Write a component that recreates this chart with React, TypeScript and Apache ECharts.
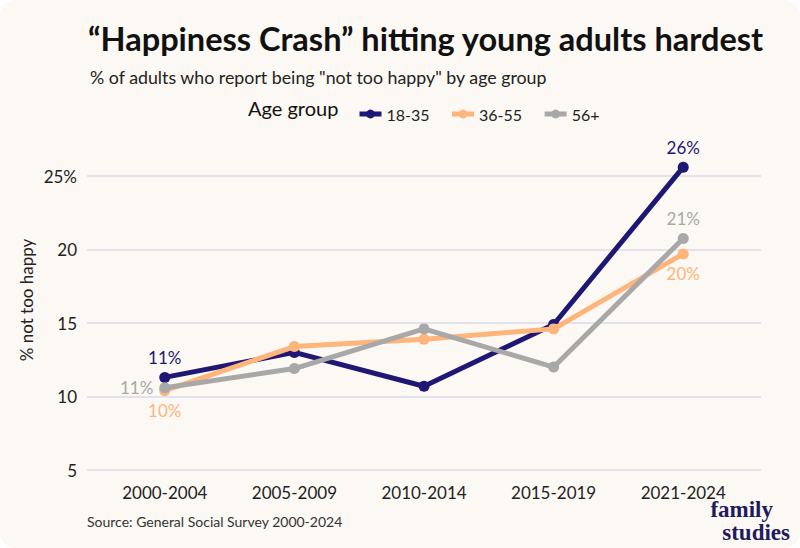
import React, { useEffect, useRef } from "react";
import * as echarts from "echarts";

const categories = ["2000-2004", "2005-2009", "2010-2014", "2015-2019", "2021-2024"];
const seriesNames = ["18-35", "36-55", "56+"];
const young = [11.3, 13.0, 10.7, 14.9, 25.6];
const middle = [10.4, 13.4, 13.9, 14.6, 19.7];
const older = [10.6, 11.9, 14.6, 12.0, 20.75];
const yTicks = [5, 10, 15, 20, 25];
const colors = ["#1e1874", "#fdb57b", "#a8a8a8"];
const labelColors = ["#1e1874", "#fdb57b", "#a8a8a8"];
const firstPos = ["top", "bottom", "left"];
const lastPos = ["top", "bottom", "top"];

const FONT = "Lato";

export default function App() {
  const ref = useRef<HTMLDivElement>(null);
  useEffect(() => {
    document.body.style.margin = "0";
    document.body.style.background = "#ffffff";
    const chart = echarts.init(ref.current!, null, { renderer: "svg" });
    const all = [young, middle, older];
    const series = all.map((vals, si) => ({
      name: seriesNames[si],
      type: "line",
      clip: false,
      z: 2 + si,
      symbol: "circle",
      symbolSize: 11,
      lineStyle: { width: 5, color: colors[si] },
      itemStyle: { color: colors[si] },
      data: vals.map((v, i) => ({
        value: [i, v],
        label: {
          show: i === 0 || i === vals.length - 1,
          position: i === 0 ? firstPos[si] : lastPos[si],
          distance: 6,
          formatter: () => Math.round(v) + "%",
          color: labelColors[si],
          fontFamily: FONT,
          fontSize: 17,
        },
      })),
    }));
    chart.setOption({
      animation: false,
      backgroundColor: "transparent",
      textStyle: { fontFamily: FONT },
      title: [
        {
          text: "\u201cHappiness Crash\u201d hitting young adults hardest",
          left: 83,
          top: 17,
          textStyle: { fontFamily: FONT, fontWeight: "bold", fontSize: 32.5, color: "#111111" },
        },
        {
          text: '% of adults who report being "not too happy" by age group',
          left: 85,
          top: 63,
          textStyle: { fontFamily: FONT, fontWeight: "normal", fontSize: 17.8, color: "#222222" },
        },
      ],
      legend: {
        left: 352,
        top: 101,
        itemWidth: 22,
        itemHeight: 11,
        itemGap: 20,
        data: seriesNames,
        lineStyle: { width: 5 },
        textStyle: { fontFamily: FONT, fontSize: 16, color: "#222222" },
      },
      grid: { left: 87, right: 39, top: 176, bottom: 78 },
      xAxis: {
        type: "value",
        min: -0.6,
        max: 4.6,
        splitLine: { show: false },
        axisLine: { show: false },
        axisTick: { show: false },
        axisLabel: {
          customValues: categories.map((_, i) => i),
          formatter: (v: number) => categories[Math.round(v)] ?? "",
          fontFamily: FONT,
          fontSize: 17,
          color: "#222222",
          margin: 14,
        },
      },
      yAxis: {
        type: "value",
        min: yTicks[0],
        max: yTicks[yTicks.length - 1],
        interval: 5,
        axisLine: { show: false },
        axisTick: { show: false },
        splitLine: { lineStyle: { color: "#e2e2ec", width: 2 } },
        axisLabel: {
          formatter: (v: number) => (v === yTicks[yTicks.length - 1] ? v + "%" : String(v)),
          fontFamily: FONT,
          fontSize: 17,
          color: "#222222",
          margin: 10,
        },
      },
      graphic: [
        {
          type: "text",
          left: 248,
          top: 98,
          style: { text: "Age group", fontFamily: FONT, fontSize: 20, fill: "#111111" },
        },
        {
          type: "text",
          x: 26,
          y: 300,
          rotation: Math.PI / 2,
          style: {
            text: "% not too happy",
            fontFamily: FONT,
            fontSize: 17,
            fill: "#222222",
            align: "center",
            verticalAlign: "middle",
          },
        },
        {
          type: "text",
          left: 87,
          top: 514,
          style: {
            text: "Source: General Social Survey 2000-2024",
            fontFamily: FONT,
            fontSize: 14,
            fill: "#333333",
          },
        },
        {
          type: "text",
          x: 773,
          y: 509,
          style: {
            text: "family",
            fontFamily: "Liberation Serif",
            fontWeight: "bold",
            fontSize: 23,
            fill: "#1f1b5e",
            align: "right",
            verticalAlign: "middle",
          },
        },
        {
          type: "text",
          x: 790,
          y: 532,
          style: {
            text: "studies",
            fontFamily: "Liberation Serif",
            fontWeight: "bold",
            fontSize: 23,
            fill: "#1f1b5e",
            align: "right",
            verticalAlign: "middle",
          },
        },
      ],
      series,
    });
    return () => chart.dispose();
  }, []);
  return (
    <div style={{ position: "absolute", left: 0, top: 0, width: 800, height: 548, background: "#ffffff" }}>
      <div
        style={{
          position: "absolute",
          left: 0,
          top: 0,
          width: 800,
          height: 548,
          background: "#fcf8f3",
          borderRadius: 16,
        }}
      />
      <div ref={ref} style={{ position: "absolute", left: 0, top: 0, width: 800, height: 548 }} />
    </div>
  );
}
